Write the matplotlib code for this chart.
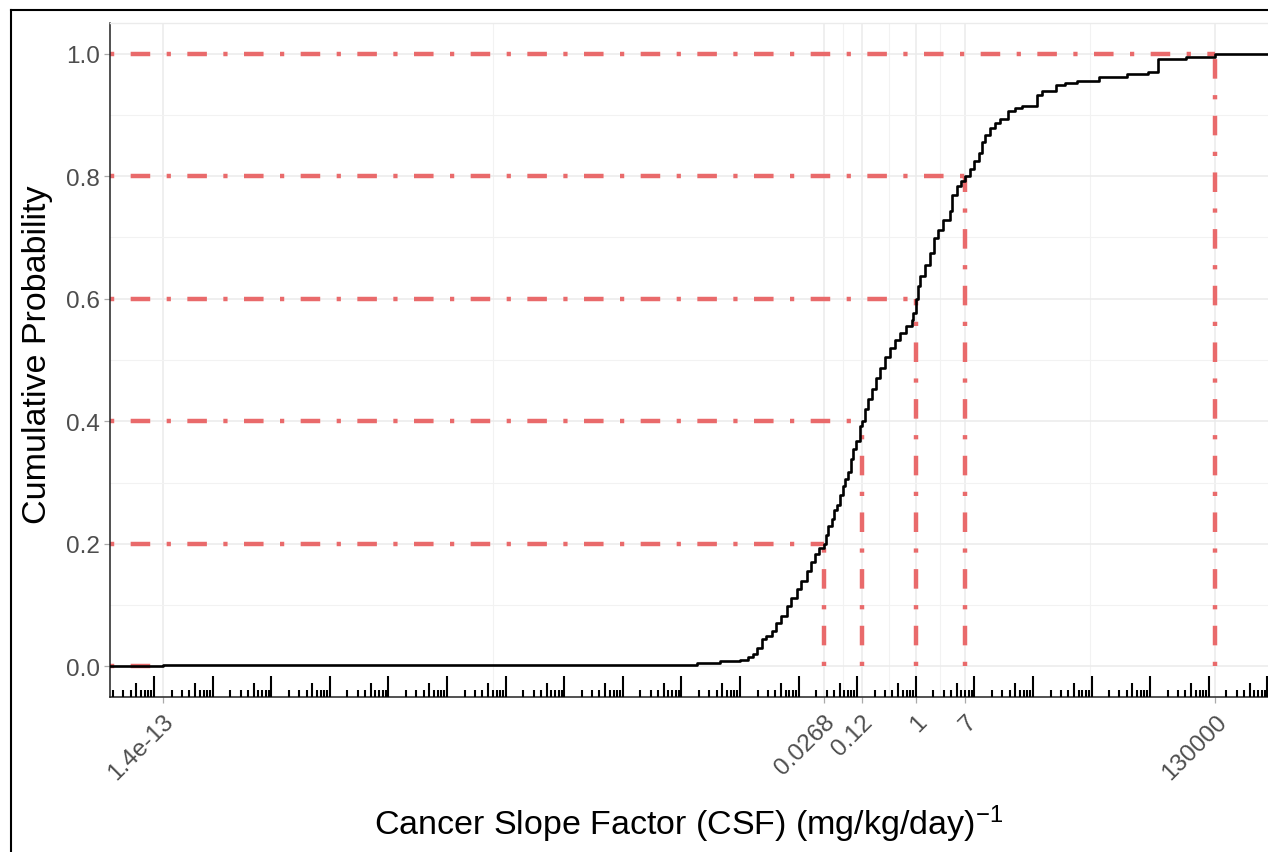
import numpy as np
import matplotlib
matplotlib.use("Agg")
import matplotlib.pyplot as plt
from matplotlib.lines import Line2D
from matplotlib.ticker import FixedLocator, NullFormatter, FixedFormatter

plt.rcParams['font.family'] = ['Liberation Sans', 'DejaVu Sans']
plt.rcParams['mathtext.fontset'] = 'custom'
plt.rcParams['mathtext.rm'] = 'Liberation Sans'
plt.rcParams['mathtext.default'] = 'regular'

# ECDF steps (CSF value, cumulative probability after the step)
csf_values = [1.4e-13, 1.85e-4, 4.6e-4, 1.0e-3, 1.37e-3, 1.67e-3, 1.95e-3, 2.35e-3, 2.79e-3,
              3.48e-3, 4.13e-3, 5.02e-3, 6.29e-3, 7.45e-3, 9.31e-3, 1.10e-2, 1.38e-2, 1.63e-2,
              1.91e-2, 2.24e-2, 0.0268, 2.95e-2, 3.23e-2, 3.69e-2, 4.04e-2, 4.49e-2, 5.11e-2,
              5.82e-2, 6.22e-2, 7.0e-2, 7.88e-2, 8.63e-2, 9.6e-2, 0.112, 0.12, 0.137, 0.156,
              0.180, 0.211, 0.247, 0.300, 0.365, 0.445, 0.542, 0.685, 0.857, 0.913, 1.0, 1.10,
              1.19, 1.45, 1.76, 2.01, 2.41, 2.97, 3.87, 4.14, 5.03, 5.96, 7.0, 8.49, 9.94, 11.8,
              13.6, 15.3, 18.7, 22.7, 27.6, 37.9, 49.9, 64.9, 117, 143, 250, 356, 564, 1356,
              4030, 9060, 13400, 41000, 130000]
cum_prob = [0.003, 0.005, 0.008, 0.010, 0.015, 0.020, 0.030, 0.044, 0.050, 0.058, 0.070, 0.082,
            0.098, 0.112, 0.126, 0.140, 0.155, 0.170, 0.183, 0.193, 0.200, 0.215, 0.229, 0.240,
            0.255, 0.264, 0.280, 0.294, 0.305, 0.318, 0.338, 0.354, 0.368, 0.392, 0.400, 0.420,
            0.436, 0.452, 0.470, 0.487, 0.505, 0.520, 0.533, 0.544, 0.555, 0.566, 0.577, 0.600,
            0.620, 0.637, 0.655, 0.675, 0.699, 0.712, 0.729, 0.743, 0.770, 0.784, 0.792, 0.800,
            0.811, 0.824, 0.838, 0.855, 0.868, 0.878, 0.887, 0.893, 0.906, 0.911, 0.914, 0.933,
            0.939, 0.949, 0.952, 0.956, 0.962, 0.967, 0.970, 0.992, 0.995, 1.0]

quantile_probs = [0.0, 0.2, 0.4, 0.6, 0.8, 1.0]
quantile_csf = [1.4e-13, 0.0268, 0.12, 1, 7, 130000]
break_labels = ["1.4e-13", "0.0268", "0.12", "1", "7", "130000"]
y_breaks = [0.0, 0.2, 0.4, 0.6, 0.8, 1.0]
y_labels = ["0.0", "0.2", "0.4", "0.6", "0.8", "1.0"]

W, H = 1268, 853
fig = plt.figure(figsize=(W / 100, H / 100), dpi=100)
ax = fig.add_axes([110 / W, 1 - 698 / H, 1 - 110 / W, (698 - 24) / H])

ax.set_xscale('log')
lo, hi = np.log10(min(csf_values)), np.log10(max(csf_values))
span = hi - lo
xmin, xmax = 10 ** (lo - 0.05 * span), 10 ** (hi + 0.05 * span)
ax.set_xlim(xmin, xmax)
ax.set_ylim(-0.05, 1.05)

# grid
lb = np.log10(quantile_csf)
minor_x = 10 ** ((lb[:-1] + lb[1:]) / 2)
for v in minor_x:
    ax.axvline(v, color='#F2F2F2', lw=0.8, zorder=0)
for v in quantile_csf:
    ax.axvline(v, color='#EBEBEB', lw=1.1, zorder=0)
for v in [0.1, 0.3, 0.5, 0.7, 0.9]:
    ax.axhline(v, color='#F2F2F2', lw=0.8, zorder=0)
for v in y_breaks:
    ax.axhline(v, color='#EBEBEB', lw=1.1, zorder=0)

red = '#E96A6B'
dash = (0, (0.95, 3.7, 4.4, 3.7))
for p, q in zip(quantile_probs, quantile_csf):
    ax.plot([xmin, q], [p, p], color=red, lw=3.2, linestyle=dash, zorder=2)
    if p > 0:
        ax.plot([q, q], [0, p], color=red, lw=3.2, linestyle=dash, zorder=2)

# ECDF
xs = [xmin] + csf_values + [xmax]
ys = [0.0] + cum_prob + [1.0]
ax.step(xs, ys, where='post', color='black', lw=1.9, zorder=3)

# log ticks annotation at bottom
long_x, mid_x, short_x = [], [], []
for d in range(-15, 8):
    for k in range(1, 10):
        v = k * 10.0 ** d
        if xmin <= v <= xmax:
            (long_x if k == 1 else mid_x if k == 5 else short_x).append(v)
tr = ax.get_xaxis_transform()
ax.vlines(long_x, 0, 21 / 674, transform=tr, color='black', lw=1.5, zorder=4)
ax.vlines(mid_x, 0, 14 / 674, transform=tr, color='black', lw=1.5, zorder=4)
ax.vlines(short_x, 0, 7.5 / 674, transform=tr, color='black', lw=1.5, zorder=4)

# axes ticks
ax.xaxis.set_major_locator(FixedLocator(quantile_csf))
ax.xaxis.set_major_formatter(FixedFormatter(break_labels))
ax.xaxis.set_minor_locator(FixedLocator([]))
ax.xaxis.set_minor_formatter(NullFormatter())
ax.set_yticks(y_breaks)
ax.set_yticklabels(y_labels)
ax.tick_params(axis='both', which='major', length=4.5, width=0.9, color='#AAAAAA',
               labelcolor='#4D4D4D', labelsize=17.5, pad=3)
ax.tick_params(axis='x', pad=5)
for lab in ax.get_xticklabels():
    lab.set_rotation(45)
    lab.set_ha('right')
    lab.set_va('top')
    lab.set_rotation_mode('anchor')

for s in ['left', 'bottom']:
    ax.spines[s].set_color('#222222')
    ax.spines[s].set_linewidth(1.1)
ax.spines['top'].set_color('#EBEBEB')
ax.spines['top'].set_linewidth(1.0)
ax.spines['right'].set_visible(False)

fig.text(38 / W, 1 - 355 / H, 'Cumulative Probability', rotation=90, ha='center', va='center',
         fontsize=24.5, color='black')
fig.text(689 / W, 1 - 835 / H, 'Cancer Slope Factor (CSF) (mg/kg/day)$^{-1}$', ha='center',
         va='baseline', fontsize=24.5, color='black')

# outer frame (left and top)
fig.add_artist(Line2D([11 / W, 11 / W], [0, 1 - 11 / H], color='black', lw=1.5))
fig.add_artist(Line2D([11 / W, 1], [1 - 11 / H, 1 - 11 / H], color='black', lw=1.5))

fig.savefig('out.png', dpi=100)
